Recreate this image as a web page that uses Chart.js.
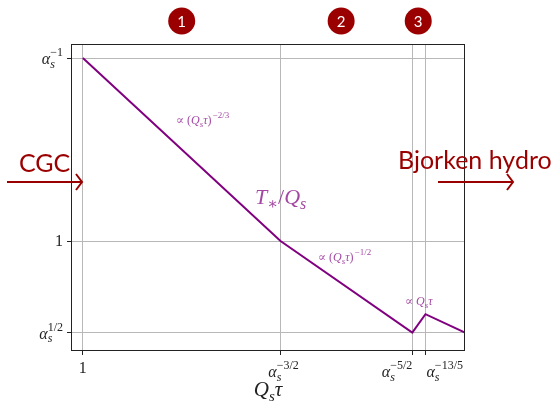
<!DOCTYPE html>
<html>
<head>
<meta charset="utf-8">
<script src="https://cdn.jsdelivr.net/npm/chart.js@4/dist/chart.umd.min.js"></script>
<style>
  body { margin: 0; background: #fff; }
</style>
</head>
<body>
<canvas id="chart" width="554" height="404"></canvas>
<script>
// values are powers of alpha_s
const alphaS = 0.1;
const qsTauExp = [0, 1.5, 2.5, 2.6, 2.9];      // Q_s tau = alpha_s^-p
const tStarExp = [-1, 0, 0.5, 0.4, 0.5];       // T*/Q_s = alpha_s^q
const xTickExp = [0, 1.5, 2.5, 2.6];
const xTickLabels = ["1", "-3/2", "-5/2", "-13/5"];
const yTickExp = [-1, 0, 0.5];
const yTickLabels = ["-1", "1", "1/2"];
const stages = ["1", "2", "3"];
const stageAt = [0.75, 1.96, 2.545];           // x position (power) of the circled numbers

const pw = (p) => Math.pow(alphaS, p);
const xVal = (e) => pw(-e);
const yVal = (e) => pw(e);

const points = qsTauExp.map((e, i) => ({ x: xVal(e), y: yVal(tStarExp[i]) }));

const SERIF = '"Liberation Serif", "DejaVu Serif", serif';
const SANS = 'Lato, "Open Sans", sans-serif';
const dark = "#9b0000";
const purple = "#800080";

// parts: [text, mode] mode: r roman, i italic, _ subscript, ^ superscript
function fontFor(m, size) {
  if (m === "i") return "italic " + size + "px " + SERIF;
  if (m === "_") return "italic " + Math.round(size * 0.72) + "px " + SERIF;
  if (m === "^") return Math.round(size * 0.72) + "px " + SERIF;
  return size + "px " + SERIF;
}
function layoutMath(ctx, parts, size) {
  let x = 0, subStart = null, subEnd = 0, out = [];
  parts.forEach(([t, m]) => {
    ctx.font = fontFor(m, size);
    let w = ctx.measureText(t).width;
    if (m === "_") {
      out.push([t, m, x, size * 0.22]);
      subStart = x; subEnd = x + w; x += w;
    } else if (m === "^") {
      let sx = subStart !== null ? subStart : x + 1;
      out.push([t, m, sx, -size * 0.5]);
      x = Math.max(subEnd, sx + w);
      subStart = null;
    } else {
      out.push([t, m, x, 0]);
      x += w; subStart = null;
    }
  });
  return { items: out, width: x };
}
function drawMath(ctx, x0, y, parts, size, align, color) {
  let lay = layoutMath(ctx, parts, size);
  let x = align === "center" ? x0 - lay.width / 2 : align === "right" ? x0 - lay.width : x0;
  ctx.fillStyle = color;
  ctx.textAlign = "left";
  ctx.textBaseline = "alphabetic";
  lay.items.forEach(([t, m, dx, dy]) => {
    ctx.font = fontFor(m, size);
    ctx.fillText(t, x + dx, y + dy);
  });
}
function alphaLabel(p) {
  if (p === "1") return [["1", "r"]];
  return [["\u03b1", "i"], ["s", "_"], [p.replace("-", "\u2212"), "^"]];
}
function arrow(ctx, x1, x2, y) {
  ctx.save();
  ctx.strokeStyle = dark;
  ctx.lineWidth = 2;
  ctx.beginPath();
  ctx.moveTo(x1, y); ctx.lineTo(x2, y);
  ctx.moveTo(x2 - 6, y - 8); ctx.lineTo(x2, y); ctx.lineTo(x2 - 6, y + 8);
  ctx.stroke();
  ctx.restore();
}

const decorations = {
  id: "decorations",
  afterDraw(chart) {
    const ctx = chart.ctx;
    const a = chart.chartArea;
    const xs = chart.scales.x, ys = chart.scales.y;
    ctx.save();
    // frame
    ctx.strokeStyle = "#222";
    ctx.lineWidth = 1;
    ctx.strokeRect(a.left + 0.5, a.top + 0.5, a.right - a.left - 1, a.bottom - a.top - 1);

    // tick labels
    const xAlign = ["center", "center", "right", "left"];
    const xShift = [0, 3, 0, 1];
    xTickExp.forEach((e, i) => {
      let px = xs.getPixelForValue(xVal(e));
      drawMath(ctx, px + xShift[i], xTickLabels[i] === "1" ? 373 : 377, alphaLabel(xTickLabels[i]), 16, xAlign[i], "#222");
    });
    yTickExp.forEach((e, i) => {
      let py = ys.getPixelForValue(yVal(e));
      drawMath(ctx, 63, py + (yTickLabels[i] === "1" ? 5 : 6), alphaLabel(yTickLabels[i]), 16, "right", "#222");
    });

    // axis title
    drawMath(ctx, (a.left + a.right) / 2, 396, [["Q", "i"], ["s", "_"], ["\u03c4", "i"]], 21, "center", "#222");

    // annotations on the curve
    const ann = "rgba(128,0,128,0.72)";
    drawMath(ctx, 176, 124, [["\u221d (", "r"], ["Q", "i"], ["s", "_"], ["\u03c4", "i"], [")", "r"], ["\u22122/3", "^"]], 12, "left", ann);
    drawMath(ctx, 318, 261, [["\u221d (", "r"], ["Q", "i"], ["s", "_"], ["\u03c4", "i"], [")", "r"], ["\u22121/2", "^"]], 12, "left", ann);
    drawMath(ctx, 405, 305, [["\u221d ", "r"], ["Q", "i"], ["s", "_"], ["\u03c4", "i"]], 12, "left", ann);
    drawMath(ctx, 255, 204, [["T", "i"], ["\u2217", "_"], ["/", "r"], ["Q", "i"], ["s", "_"]], 22, "left", ann);

    // stage circles
    stages.forEach((s, i) => {
      let cx = xs.getPixelForValue(xVal(stageAt[i]));
      ctx.fillStyle = dark;
      ctx.beginPath();
      ctx.arc(cx, 21, 13.5, 0, Math.PI * 2);
      ctx.fill();
      ctx.fillStyle = "#fff";
      ctx.font = "15px " + SANS;
      ctx.textAlign = "center";
      ctx.textBaseline = "middle";
      ctx.fillText(s, cx, 22);
    });

    // regime labels
    ctx.fillStyle = dark;
    ctx.font = "25px " + SANS;
    ctx.textAlign = "left";
    ctx.textBaseline = "alphabetic";
    ctx.fillText("CGC", 19, 172);
    ctx.fillText("Bjorken hydro", 398, 169);
    arrow(ctx, 7, 82, 182);
    arrow(ctx, 438, 513, 182);
    ctx.restore();
  }
};

new Chart(document.getElementById("chart").getContext("2d"), {
  type: "line",
  data: {
    datasets: [
      {
        label: "T*/Qs",
        data: points,
        borderColor: purple,
        borderWidth: 2,
        pointRadius: 0,
        tension: 0,
        fill: false,
      },
    ],
  },
  options: {
    responsive: false,
    animation: false,
    layout: { padding: { left: 67, right: 89, top: 44, bottom: 49 } },
    plugins: { legend: { display: false }, tooltip: { enabled: false } },
    scales: {
      x: {
        type: "logarithmic",
        min: xVal(-0.09),
        max: xVal(2.9),
        afterBuildTicks: (scale) => { scale.ticks = xTickExp.map((e) => ({ value: xVal(e) })); },
        ticks: { display: false },
        grid: { color: "#b8b8b8", lineWidth: 1, tickLength: 4, tickColor: "#222" },
        border: { display: false },
      },
      y: {
        type: "logarithmic",
        min: yVal(0.601),
        max: yVal(-1.0765),
        afterBuildTicks: (scale) => { scale.ticks = yTickExp.map((e) => ({ value: yVal(e) })); },
        ticks: { display: false },
        grid: { color: "#b8b8b8", lineWidth: 1, tickLength: 4, tickColor: "#222" },
        border: { display: false },
      },
    },
  },
  plugins: [decorations],
});
</script>
</body>
</html>
